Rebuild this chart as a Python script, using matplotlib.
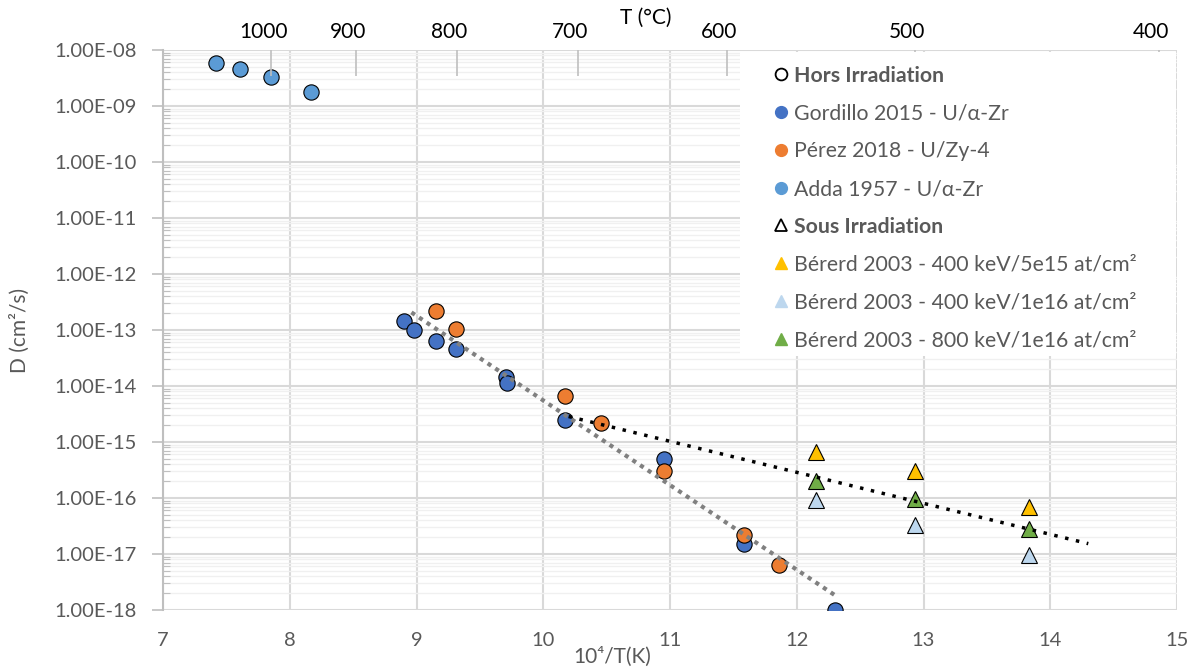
import numpy as np
import matplotlib
matplotlib.use("Agg")
import matplotlib.pyplot as plt
from matplotlib.lines import Line2D
from matplotlib.patches import Rectangle
from matplotlib.transforms import ScaledTranslation

plt.rcParams['font.family'] = ['Lato', 'DejaVu Sans']

# donnees (x = 10^4/T(K), D en cm2/s)
adda_x = [7.42, 7.61, 7.85, 8.17]
adda_d = [5.9e-9, 4.6e-9, 3.25e-9, 1.8e-9]

gordillo_x = [8.90, 8.98, 9.15, 9.31, 9.706, 9.712, 10.17, 10.95, 11.58, 12.30]
gordillo_d = [1.45e-13, 1.0e-13, 6.4e-14, 4.5e-14, 1.43e-14, 1.12e-14,
              2.5e-15, 4.9e-16, 1.5e-17, 1.0e-18]

perez_x = [9.15, 9.31, 10.17, 10.456, 10.95, 11.58, 11.86]
perez_d = [2.2e-13, 1.03e-13, 6.6e-15, 2.16e-15, 3.0e-16, 2.2e-17, 6.3e-18]

bererd_x = [12.15, 12.935, 13.83]
bererd_5e15_400 = [6.5e-16, 3.0e-16, 6.8e-17]
bererd_1e16_400 = [9.2e-17, 3.25e-17, 9.6e-18]
bererd_1e16_800 = [2.05e-16, 9.6e-17, 2.8e-17]

temp_c = [1000, 900, 800, 700, 600, 500, 400]
trend_hors_range = [8.96, 12.31]
trend_irr_range = [10.2, 14.3]

c_gord = '#4472C4'
c_perez = '#ED7D31'
c_adda = '#5B9BD5'
c_y = '#FFC000'
c_lb = '#BDD7EE'
c_g = '#70AD47'
grey = '#595959'

fig = plt.figure(figsize=(11.95, 6.71), dpi=100)
ax = fig.add_axes([163/1195, 1-610/671, 1014/1195, 560/671])
ax.set_yscale('log')
ax.set_xlim(7, 15)
ax.set_ylim(1e-18, 1e-8)

# grille
ax.grid(which='major', color='#d9d9d9', lw=1.5, zorder=0)
ax.grid(which='minor', axis='y', color='#f0f0f0', lw=1.0, zorder=0)
ax.set_axisbelow(True)
ax.set_xticks(np.arange(7, 16, 1))
ax.set_yticks([10.0**k for k in range(-18, -7)])
ax.yaxis.set_major_formatter(matplotlib.ticker.FuncFormatter(lambda v, p: '{:.2E}'.format(v)))
ax.yaxis.set_minor_locator(matplotlib.ticker.LogLocator(base=10, subs=np.arange(2, 10), numticks=100))
ax.yaxis.set_minor_formatter(matplotlib.ticker.NullFormatter())
for s in ['top', 'right', 'bottom']:
    ax.spines[s].set_visible(False)
ax.spines['left'].set_color('#bfbfbf')
ax.spines['left'].set_linewidth(1.5)
ax.tick_params(axis='y', which='major', direction='out', length=8, width=1.2, color='#bfbfbf',
               labelsize=14.5, labelcolor=grey, pad=11)
ax.tick_params(axis='y', which='minor', direction='in', length=5, width=0.8, color='#bfbfbf')
ax.tick_params(axis='x', length=0, labelsize=14.5, labelcolor=grey, pad=16)

ms = 11
ax.plot(adda_x, adda_d, 'o', ms=ms, mfc=c_adda, mec='black', mew=0.8, zorder=3)
ax.plot(gordillo_x, gordillo_d, 'o', ms=ms, mfc=c_gord, mec='black', mew=0.8, zorder=3)
ax.plot(perez_x, perez_d, 'o', ms=ms, mfc=c_perez, mec='black', mew=0.8, zorder=3)
ax.plot(bererd_x, bererd_5e15_400, '^', ms=ms, mfc=c_y, mec='black', mew=0.8, zorder=3)
ax.plot(bererd_x, bererd_1e16_400, '^', ms=ms, mfc=c_lb, mec='black', mew=0.8, zorder=3)
ax.plot(bererd_x, bererd_1e16_800, '^', ms=ms, mfc=c_g, mec='black', mew=0.8, zorder=3)

# tendance hors irradiation (Gordillo + Perez)
tx = np.array(gordillo_x + perez_x)
ty = np.log10(gordillo_d + perez_d)
p1 = np.polyfit(tx, ty, 1)
xx = np.linspace(trend_hors_range[0], trend_hors_range[1], 50)
ax.plot(xx, 10**np.polyval(p1, xx), color='#808080', lw=3, ls=(0, (1, 1.2)), zorder=4)

# tendance sous irradiation
ix = np.array([perez_x[3]] + bererd_x)
iy = np.log10([perez_d[3]] + bererd_1e16_800)
p2 = np.polyfit(ix, iy, 1)
xx2 = np.linspace(trend_irr_range[0], trend_irr_range[1], 50)
ax.plot(xx2, 10**np.polyval(p2, xx2), color='black', lw=2.5, ls=(0, (1, 2.2)), zorder=4)

# axe du haut : T (degC)
ax2 = ax.twiny()
ax2.set_xlim(ax.get_xlim())
ax2.set_xticks([1e4/(t+273.15) for t in temp_c])
ax2.set_xticklabels([str(t) for t in temp_c])
ax2.tick_params(axis='x', direction='in', length=19, width=1.2, color='#bfbfbf',
                labelsize=15, labelcolor='black', pad=6)
for s in ['top', 'right', 'bottom', 'left']:
    ax2.spines[s].set_visible(False)
for lab in ax2.get_xticklabels():
    lab.set_transform(lab.get_transform() + ScaledTranslation(-0.08, 0, fig.dpi_scale_trans))

fig.text(646/1195, 1-18/671, 'T (°C)', fontsize=15, color='black', ha='center', va='center')
fig.text(612/1195, 1-657/671, '10⁴/T(K)', fontsize=15, color=grey, ha='center', va='center')
fig.text(20/1195, 1-330/671, 'D (cm²/s)', fontsize=15, color=grey, ha='center', va='center',
         rotation=90)

# fond blanc de la legende
fig.add_artist(Rectangle((740/1195, 1-356/671), 436/1195, 304/671, transform=fig.transFigure,
                         facecolor='white', edgecolor='none', zorder=2))

# legende
lm = 8.5
handles = [
    Line2D([], [], ls='none', marker='o', ms=lm, mfc='white', mec='black', mew=1.3),
    Line2D([], [], ls='none', marker='o', ms=lm, mfc=c_gord, mec=c_gord),
    Line2D([], [], ls='none', marker='o', ms=lm, mfc=c_perez, mec=c_perez),
    Line2D([], [], ls='none', marker='o', ms=lm, mfc=c_adda, mec=c_adda),
    Line2D([], [], ls='none', marker='^', ms=lm, mfc='white', mec='black', mew=1.3),
    Line2D([], [], ls='none', marker='^', ms=lm, mfc=c_y, mec=c_y),
    Line2D([], [], ls='none', marker='^', ms=lm, mfc=c_lb, mec=c_lb),
    Line2D([], [], ls='none', marker='^', ms=lm, mfc=c_g, mec=c_g),
]
labels = ['Hors Irradiation', 'Gordillo 2015 - U/α-Zr', 'Pérez 2018 - U/Zy-4',
          'Adda 1957 - U/α-Zr', 'Sous Irradiation',
          'Bérerd 2003 - 400 keV/5e15 at/cm²', 'Bérerd 2003 - 400 keV/1e16 at/cm²',
          'Bérerd 2003 - 800 keV/1e16 at/cm²']
leg = fig.legend(handles, labels, loc='upper left', bbox_to_anchor=(766/1195, 1-57/671),
                 frameon=False, fontsize=15.3, handlelength=0.6, handletextpad=0.32,
                 labelspacing=0.84, borderpad=0.4, borderaxespad=0)
leg.set_zorder(3)
for i, t in enumerate(leg.get_texts()):
    t.set_color(grey)
    if i in (0, 4):
        t.set_fontweight('bold')

fig.savefig('out.png', dpi=100)
